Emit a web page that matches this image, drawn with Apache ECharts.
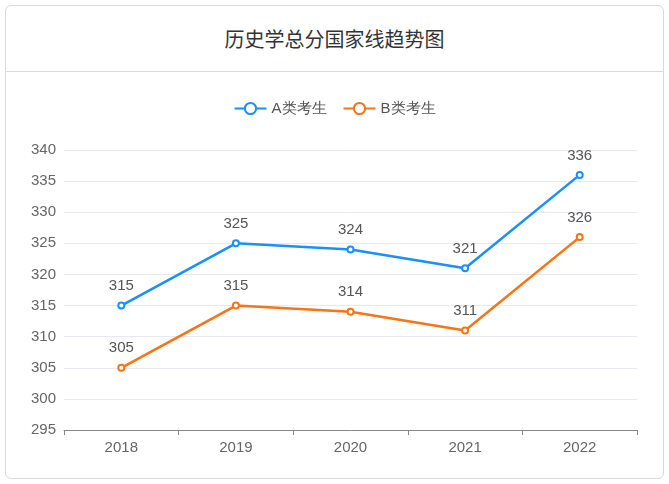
<!DOCTYPE html>
<html><head><meta charset="utf-8">
<script src="https://cdn.jsdelivr.net/npm/echarts@6/dist/echarts.min.js"></script>
<style>
body{margin:0;width:669px;height:484px;background:#fff;font-family:"Noto Sans CJK SC",sans-serif;}
#card{position:absolute;left:5px;top:5px;width:657px;height:472px;border:1px solid #d9d9d9;border-radius:6px;}
#title{height:65px;border-bottom:1px solid #d9d9d9;text-align:center;line-height:66px;font-size:20px;color:#333;}
#c{position:absolute;left:0;top:0;width:669px;height:484px;}
</style></head><body>
<div id="card"><div id="title">历史学总分国家线趋势图</div></div>
<div id="c"></div>
<script>
const years=['2018','2019','2020','2021','2022'];
const seriesA=[315,325,324,321,336];
const seriesB=[305,315,314,311,326];
const names=['A类考生','B类考生'];
const chart=echarts.init(document.getElementById('c'));
const lbl={show:true,position:'top',distance:8,color:'#555',fontSize:15};
chart.setOption({
 color:['#1890ff','#fa7314'],
 legend:{top:96,itemWidth:32,itemHeight:14,itemGap:16,textStyle:{color:'#555',fontSize:15},data:names},
 grid:{left:64,right:32,top:150,bottom:54},
 xAxis:{type:'category',data:years,axisLine:{lineStyle:{color:'#888'}},axisTick:{show:true,length:5,lineStyle:{color:'#888'}},axisLabel:{color:'#666',fontSize:15,margin:10}},
 yAxis:{type:'value',min:295,max:340,interval:5,axisLabel:{color:'#666',fontSize:15},splitLine:{lineStyle:{color:'#e8e8f2'}}},
 series:[
  {name:names[0],type:'line',data:seriesA,symbol:'emptyCircle',symbolSize:6,lineStyle:{width:2.5},label:lbl},
  {name:names[1],type:'line',data:seriesB,symbol:'emptyCircle',symbolSize:6,lineStyle:{width:2.5},label:lbl}
 ]
});
</script></body></html>
